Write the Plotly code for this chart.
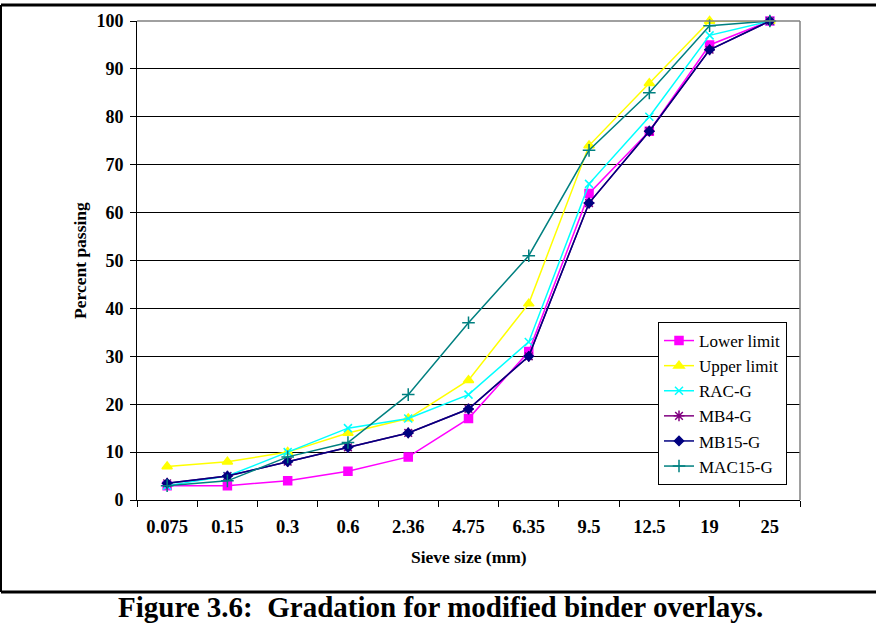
import plotly.graph_objects as go

sieve_sizes = ["0.075", "0.15", "0.3", "0.6", "2.36", "4.75", "6.35", "9.5", "12.5", "19", "25"]
lower_limit = [3, 3, 4, 6, 9, 17, 31, 64, 77, 95, 100]
upper_limit = [7, 8, 10, 14, 17, 25, 41, 74, 87, 100, 100]
rac_g = [3, 5, 10, 15, 17, 22, 33, 66, 80, 97, 100]
mb4_g = [3.5, 5, 8, 11, 14, 19, 30, 62, 77, 94, 100]
mb15_g = [3.5, 5, 8, 11, 14, 19, 30, 62, 77, 94, 100]
mac15_g = [3, 4, 9, 12, 22, 37, 51, 73, 85, 99, 100]

series = [
    ("Lower limit", lower_limit, "#FF00FF", "square", 8),
    ("Upper limit", upper_limit, "#FFFF00", "triangle-up", 9),
    ("RAC-G", rac_g, "#00FFFF", "x-thin-open", 8),
    ("MB4-G", mb4_g, "#800080", "asterisk-open", 9),
    ("MB15-G", mb15_g, "#000080", "diamond", 7),
    ("MAC15-G", mac15_g, "#008080", "cross-thin-open", 9),
]

fig = go.Figure()
for name, vals, color, sym, size in series:
    fig.add_trace(go.Scatter(
        x=sieve_sizes, y=vals, name=name, mode="lines+markers",
        line=dict(color=color, width=1.5),
        marker=dict(symbol=sym, size=size, color=color,
                    line=dict(color=color, width=1.5)),
        cliponaxis=False,
    ))

serif = "Liberation Serif"
W, H = 876, 625
L, R, T, B = 137, 76, 21, 125
pw, ph = W - L - R, H - T - B

def px(x):
    return (x - L) / pw

def py(y):
    return (H - B - y) / ph

fig.update_layout(
    width=W, height=H,
    margin=dict(l=L, r=R, t=T, b=B),
    paper_bgcolor="white", plot_bgcolor="white",
    font=dict(family=serif, color="black"),
    showlegend=True,
    legend=dict(
        x=px(658), y=py(322), xanchor="left", yanchor="top",
        bgcolor="white", bordercolor="black", borderwidth=1,
        font=dict(family=serif, size=17, color="black"),
        itemwidth=30, tracegroupgap=0,
    ),
    xaxis=dict(
        type="category", range=[-0.5, 10.5],
        showline=True, linecolor="black", linewidth=1,
        ticks="outside", ticklen=6, tickcolor="black", tickson="boundaries",
        showgrid=False, zeroline=False,
        tickfont=dict(family=serif, size=18.5, color="black", weight="bold"),
        ticklabelstandoff=10,
    ),
    yaxis=dict(
        range=[0, 100], dtick=10,
        showline=True, linecolor="black", linewidth=1,
        ticks="outside", ticklen=6, tickcolor="black",
        showgrid=True, gridcolor="black", gridwidth=1, zeroline=False,
        tickfont=dict(family=serif, size=18, color="black", weight="bold"),
        ticklabelstandoff=3,
    ),
    annotations=[
        dict(text="Percent passing", x=px(80), y=py(261), xref="paper", yref="paper",
             xanchor="center", yanchor="middle",
             textangle=-90, showarrow=False,
             font=dict(family=serif, size=17.5, color="black", weight="bold")),
        dict(text="Sieve size (mm)", x=px(469), y=py(557), xref="paper", yref="paper",
             xanchor="center", yanchor="middle", showarrow=False,
             font=dict(family=serif, size=17.5, color="black", weight="bold")),
        dict(text="Figure 3.6:&nbsp; Gradation for modified binder overlays.",
             x=px(440), y=py(607), xref="paper", yref="paper",
             xanchor="center", yanchor="middle", showarrow=False,
             font=dict(family=serif, size=29, color="black", weight="bold")),
    ],
    shapes=[
        dict(type="line", xref="paper", yref="paper", x0=1, x1=1, y0=0, y1=1,
             line=dict(color="#808080", width=1.5)),
        dict(type="line", xref="paper", yref="paper", x0=0, x1=1, y0=1, y1=1,
             line=dict(color="#808080", width=1.5)),
        dict(type="line", xref="paper", yref="paper", x0=px(1), x1=px(880), y0=py(5), y1=py(5),
             line=dict(color="black", width=3)),
        dict(type="line", xref="paper", yref="paper", x0=px(1), x1=px(1), y0=py(5), y1=py(592),
             line=dict(color="black", width=2)),
        dict(type="line", xref="paper", yref="paper", x0=px(1), x1=px(880), y0=py(592), y1=py(592),
             line=dict(color="black", width=3)),
    ],
)

fig.write_html(
    "out.html",
    config={"displayModeBar": False},
    post_script="document.body.style.margin='0';document.body.style.overflow='hidden';",
)
